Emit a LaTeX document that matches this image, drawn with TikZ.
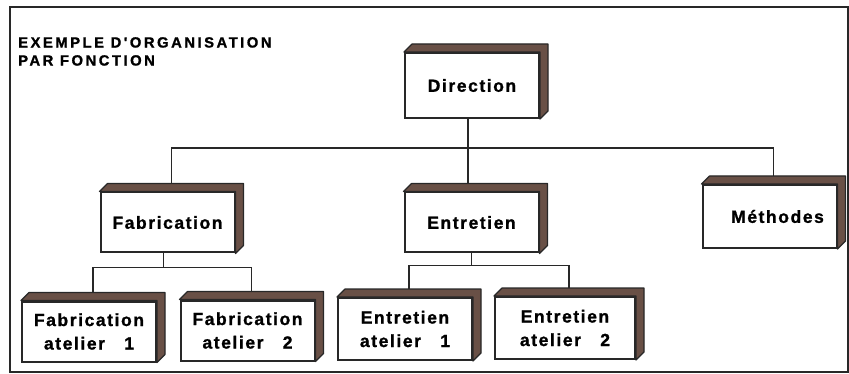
\documentclass[tikz,border=0pt]{standalone}
\usepackage{fontspec}
\setmainfont{Liberation Sans}
\newfontfamily\etiqfont[LetterSpace=9, BoldFeatures={FakeBold=1.2}]{Liberation Sans}
\newfontfamily\titrefont[LetterSpace=17, BoldFeatures={FakeBold=1.2}]{Liberation Sans}
\usetikzlibrary{calc}

\definecolor{brun}{RGB}{105,80,70}
\definecolor{trait}{RGB}{40,40,40}

\begin{document}
\begin{tikzpicture}[
    x=1pt, y=-1pt,
    carton/.style={rectangle, draw=trait, line width=2pt, fill=white, minimum width=134pt, minimum height=60pt,
        inner sep=0pt, align=center, font=\etiqfont\bfseries\fontsize{17.5}{23.5}\selectfont},
    face/.style={fill=brun, draw=trait, line width=1.2pt, line join=round},
    lien/.style={draw=trait, line width=1.5pt},
]
\useasboundingbox (0,0) rectangle (849,374);
\draw[line width=1.8pt, draw=trait] (10,7) rectangle (848,372);

\node[anchor=north west, align=left, inner sep=0pt, font=\titrefont\bfseries\fontsize{14.8}{18}\selectfont]
    (titre) at (18,37) {EXEMPLE D'ORGANISATION\\PAR FONCTION};

% niveau 1
\node[carton, minimum height=65pt] (dir) at (472,85.5) {Direction};

% niveau 2
\node[carton] (fab)  at (167.5,222.5) {Fabrication};
\node[carton] (ent)  at (471.5,222.5) {Entretien};
\node[carton, minimum height=63pt] (meth) at (769.5,216.5) {\hspace*{16pt}Méthodes};

% niveau 3
\node[carton] (fabA) at (89,331.5)  {Fabrication\\atelier\ \ \ 1};
\node[carton] (fabB) at (247.5,330.5) {Fabrication\\atelier\ \ \ 2};
\node[carton, minimum height=62pt] (entA) at (405,329) {Entretien\\atelier\ \ \ 1};
\node[carton, minimum width=140pt, minimum height=62pt] (entB) at (565,328) {Entretien\\atelier\ \ \ 2};

% faces du dessus et de cote
\foreach \n in {dir,fab,ent,meth,fabA,fabB,entA,entB}
  \draw[face] (\n.north west) -- ++(8,-8) -- ([shift={(8,-8)}]\n.north east)
     -- ([shift={(8,-8)}]\n.south east) -- (\n.south east) -- (\n.north east) -- cycle;

% liaisons
\draw[lien] ([xshift=-4pt]dir.south) -- ++(0,29) coordinate (bus);
\draw[lien] (bus) -| ([shift={(4,-8)}]fab.north);
\draw[lien] (bus) -| ([shift={(4,-8)}]meth.north);
\draw[lien] (bus) -- ([yshift=8pt]bus |- ent.north);

\draw[lien] ([xshift=-4pt]fab.south) -- ++(0,14) coordinate (busF);
\draw[lien] (busF) -| ([shift={(4,-8)}]fabA.north);
\draw[lien] (busF) -| ([shift={(4,-8)}]fabB.north);

\draw[lien] (ent.south) -- ++(0,12) coordinate (busE);
\draw[lien] (busE) -| ([shift={(4,-8)}]entA.north);
\draw[lien] (busE) -| ([shift={(4,-8)}]entB.north);

\end{tikzpicture}
\end{document}
